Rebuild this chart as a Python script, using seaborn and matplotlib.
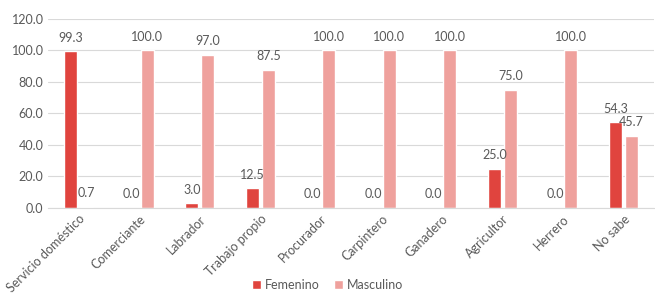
import pandas as pd
import matplotlib.pyplot as plt
import seaborn as sns

# Data
categorias = ['Servicio doméstico', 'Comerciante', 'Labrador', 'Trabajo propio', 'Procurador',
              'Carpintero', 'Ganadero', 'Agricultor', 'Herrero', 'No sabe']
femenino = [99.3, 0.0, 3.0, 12.5, 0.0, 0.0, 0.0, 25.0, 0.0, 54.3]
masculino = [0.7, 100.0, 97.0, 87.5, 100.0, 100.0, 100.0, 75.0, 100.0, 45.7]
yticks = [0, 20, 40, 60, 80, 100, 120]

df = pd.DataFrame({
    'categoria': categorias * 2,
    'valor': femenino + masculino,
    'sexo': ['Femenino'] * len(categorias) + ['Masculino'] * len(categorias),
})

sns.set_style('white')
plt.rcParams['font.family'] = ['Lato', 'DejaVu Sans']
gris = '#595959'
palette = {'Femenino': '#E0443E', 'Masculino': '#EFA19D'}

fig, ax = plt.subplots(figsize=(6.55, 2.95), dpi=100)
fig.subplots_adjust(left=0.074, right=0.998, top=0.936, bottom=0.295)

sns.barplot(data=df, x='categoria', y='valor', hue='sexo', palette=palette,
            width=0.53, gap=0.19, saturation=1, ax=ax, legend=True)

for cont in ax.containers:
    ax.bar_label(cont, fmt='%.1f', padding=5.5, fontsize=9, color=gris)

ax.set_ylim(0, 120)
ax.set_yticks(yticks)
ax.set_yticklabels([f'{v:.1f}' for v in yticks])
ax.set_xlim(-0.5, len(categorias) - 0.5)
ax.grid(True, axis='y', color='#D9D9D9', linewidth=0.8)
ax.set_axisbelow(True)
for s in ['top', 'right', 'left']:
    ax.spines[s].set_visible(False)
ax.spines['bottom'].set_color('#D9D9D9')
ax.set_xlabel('')
ax.set_ylabel('')
ax.tick_params(axis='both', length=0, labelsize=9, colors=gris)
plt.setp(ax.get_xticklabels(), rotation=45, ha='right', rotation_mode='anchor')

handles, labels = ax.get_legend_handles_labels()
ax.legend(handles, labels, loc='lower center', ncol=2, frameon=False, fontsize=9,
          labelcolor=gris, handlelength=0.7, handleheight=0.7, handletextpad=0.3,
          columnspacing=1.2)
ax.legend_.set_bbox_to_anchor((0.5, -0.025), transform=fig.transFigure)

plt.savefig('out.png', dpi=100)
